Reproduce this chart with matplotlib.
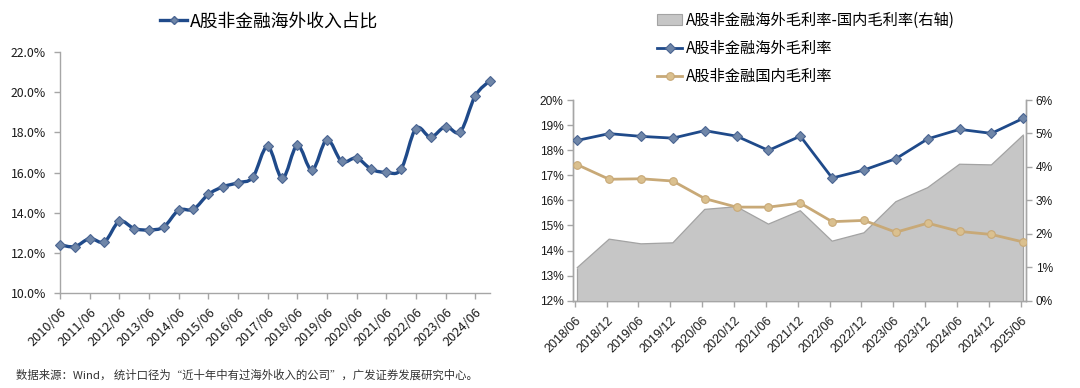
import matplotlib
matplotlib.use("Agg")
import matplotlib.pyplot as plt
from matplotlib.path import Path
from matplotlib.patches import PathPatch, Patch
from matplotlib.ticker import FuncFormatter
import numpy as np

plt.rcParams['font.family'] = ['Noto Sans CJK SC', 'DejaVu Sans']

# ---------------- data ----------------
left_periods = [f"{y}/{m}" for y in range(2010, 2025) for m in ("06", "12")]
left_share = [12.40, 12.31, 12.71, 12.55, 13.57, 13.21, 13.14, 13.29, 14.12, 14.17,
              14.91, 15.29, 15.49, 15.76, 17.30, 15.71, 17.35, 16.12, 17.63, 16.55,
              16.72, 16.16, 16.01, 16.16, 18.19, 17.76, 18.29, 18.03, 19.81, 20.58]
left_label = "A股非金融海外收入占比"

right_periods = ["2018/06", "2018/12", "2019/06", "2019/12", "2020/06", "2020/12",
                 "2021/06", "2021/12", "2022/06", "2022/12", "2023/06", "2023/12",
                 "2024/06", "2024/12", "2025/06"]
overseas_gm = [18.39, 18.66, 18.55, 18.48, 18.78, 18.56, 17.99, 18.56, 16.89, 17.21,
               17.66, 18.45, 18.83, 18.67, 19.27]
domestic_gm = [17.42, 16.84, 16.86, 16.77, 16.07, 15.73, 15.73, 15.89, 15.15, 15.20,
               14.73, 15.09, 14.76, 14.64, 14.34]
gm_diff = [0.99, 1.84, 1.70, 1.73, 2.73, 2.81, 2.29, 2.69, 1.78, 2.03,
           2.96, 3.38, 4.08, 4.06, 4.95]
lab_diff = "A股非金融海外毛利率-国内毛利率(右轴)"
lab_over = "A股非金融海外毛利率"
lab_dom = "A股非金融国内毛利率"

footnote = "数据来源：Wind， 统计口径为“近十年中有过海外收入的公司”，广发证券发展研究中心。"

# ---------------- style ----------------
BLUE = "#1F4A8A"
BLUE_M = "#6F86A8"
TAN = "#C8A977"
TAN_M = "#DAC08F"
GRAY_FILL = "#C6C6C6"
GRAY_EDGE = "#A3A3A3"
SPINE = "#A6A6A6"
TXT = "#1a1a1a"

fig = plt.figure(figsize=(10.8, 3.88), dpi=100)

# ---------------- left chart ----------------
axL = fig.add_axes([60/1080, 1-293/388, 430/1080, (293-52)/388])
xL = np.arange(len(left_share))
yL = np.array(left_share)

# smooth (Catmull-Rom as cubic Bezier) line through the data points
P = np.column_stack([xL, yL]).astype(float)
verts = [tuple(P[0])]
codes = [Path.MOVETO]
n = len(P)
for i in range(n - 1):
    p0 = P[i-1] if i > 0 else P[i]
    p1 = P[i]
    p2 = P[i+1]
    p3 = P[i+2] if i + 2 < n else P[i+1]
    c1 = p1 + (p2 - p0) / 6.0
    c2 = p2 - (p3 - p1) / 6.0
    verts += [tuple(c1), tuple(c2), tuple(p2)]
    codes += [Path.CURVE4] * 3
curve = PathPatch(Path(verts, codes), fill=False, edgecolor=BLUE, lw=2.4,
                  capstyle='round', joinstyle='round', zorder=2)
axL.add_patch(curve)
curve.set_clip_on(False)
axL.plot(xL, yL, linestyle='none', marker='D', ms=5.5, mfc=BLUE_M, mec="#4A6592",
         mew=0.8, zorder=3, clip_on=False)
lineL, = axL.plot([], [], color=BLUE, lw=2.4, marker='D', ms=4.5, mfc=BLUE_M, mec="#4A6592")

axL.set_xlim(0, len(left_share) - 1)
axL.set_ylim(10, 22)
axL.set_yticks(np.arange(10, 22.01, 2))
axL.yaxis.set_major_formatter(FuncFormatter(lambda v, p: f"{v:.1f}%"))
tick_idx = [i for i, s in enumerate(left_periods) if s.endswith("06")]
axL.set_xticks(tick_idx)
axL.set_xticklabels([left_periods[i] for i in tick_idx], rotation=45, ha='right',
                    rotation_mode='anchor', fontsize=9.2, color=TXT)
for lab in axL.get_yticklabels():
    lab.set_fontsize(8.8)
    lab.set_color(TXT)
for s in ("top", "right"):
    axL.spines[s].set_visible(False)
for s in ("left", "bottom"):
    axL.spines[s].set_color(SPINE)
    axL.spines[s].set_linewidth(1.0)
axL.tick_params(axis='both', colors=SPINE, length=4, width=1.0, labelcolor=TXT)
axL.tick_params(axis='x', pad=5)
axL.tick_params(axis='y', pad=6)

fig.legend([lineL], [left_label], loc='center', bbox_to_anchor=(269/1080, 1-21.7/388),
           frameon=False, fontsize=12.8, handlelength=1.5, handletextpad=0.15,
           borderpad=0, borderaxespad=0)

# ---------------- right chart ----------------
axR = fig.add_axes([573.3/1080, 1-300.7/388, (1026-573.3)/1080, (300.7-100)/388])
axR2 = axR.twinx()
xR = np.arange(len(right_periods))

axR2.fill_between(xR, 0, gm_diff, facecolor=GRAY_FILL, edgecolor='none', zorder=1)
axR2.plot(xR, gm_diff, color=GRAY_EDGE, lw=0.9, zorder=2)
axR2.vlines([xR[0], xR[-1]], 0, [gm_diff[0], gm_diff[-1]], color=GRAY_EDGE, lw=0.9)
axR2.set_ylim(0, 6)
axR2.set_yticks(np.arange(0, 6.01, 1))
axR2.yaxis.set_major_formatter(FuncFormatter(lambda v, p: f"{v:.0f}%"))

l1, = axR.plot(xR, overseas_gm, color=BLUE, lw=2.0, marker='D', ms=5, mfc=BLUE_M,
               mec="#4A6592", mew=0.8, zorder=3)
l2, = axR.plot(xR, domestic_gm, color=TAN, lw=2.0, marker='o', ms=5.5, mfc=TAN_M,
               mec=TAN, mew=0.8, zorder=3)
axR.set_ylim(12, 20)
axR.set_yticks(np.arange(12, 20.01, 1))
axR.yaxis.set_major_formatter(FuncFormatter(lambda v, p: f"{v:.0f}%"))
axR.set_xlim(-0.126, len(right_periods) - 1 + 0.085)
axR2.set_xlim(-0.126, len(right_periods) - 1 + 0.085)
axR.set_xticks(xR - 0.08)
axR.set_xticklabels(right_periods, rotation=45, ha='right', rotation_mode='anchor',
                    fontsize=9.0, color=TXT, family=['Liberation Sans', 'DejaVu Sans'])

axR.set_zorder(axR2.get_zorder() + 1)
axR.patch.set_visible(False)

for a in (axR, axR2):
    a.spines['top'].set_visible(False)
    for s in ("left", "right", "bottom"):
        a.spines[s].set_color(SPINE)
        a.spines[s].set_linewidth(1.0)
    a.tick_params(axis='both', colors=SPINE, length=4, width=1.0, labelcolor=TXT)
    for lab in a.get_yticklabels():
        lab.set_fontsize(8.6)
        lab.set_family(['Liberation Sans', 'DejaVu Sans'])
axR.tick_params(axis='y', pad=3)
axR2.tick_params(axis='y', pad=3)
axR.tick_params(axis='x', pad=6)

hdiff = Patch(facecolor=GRAY_FILL, edgecolor=GRAY_EDGE, lw=0.8)
fig.legend([hdiff, l1, l2], [lab_diff, lab_over, lab_dom], loc='upper left',
           bbox_to_anchor=(657/1080, 1-12/388), frameon=False, fontsize=11,
           handlelength=1.65, handleheight=0.7, handletextpad=0.25, labelspacing=0.72,
           borderpad=0, borderaxespad=0)

fig.text(16/1080, 1-375/388, footnote, fontsize=8.2, color="#333333", va='center', ha='left')

fig.savefig("out.png", dpi=100)
